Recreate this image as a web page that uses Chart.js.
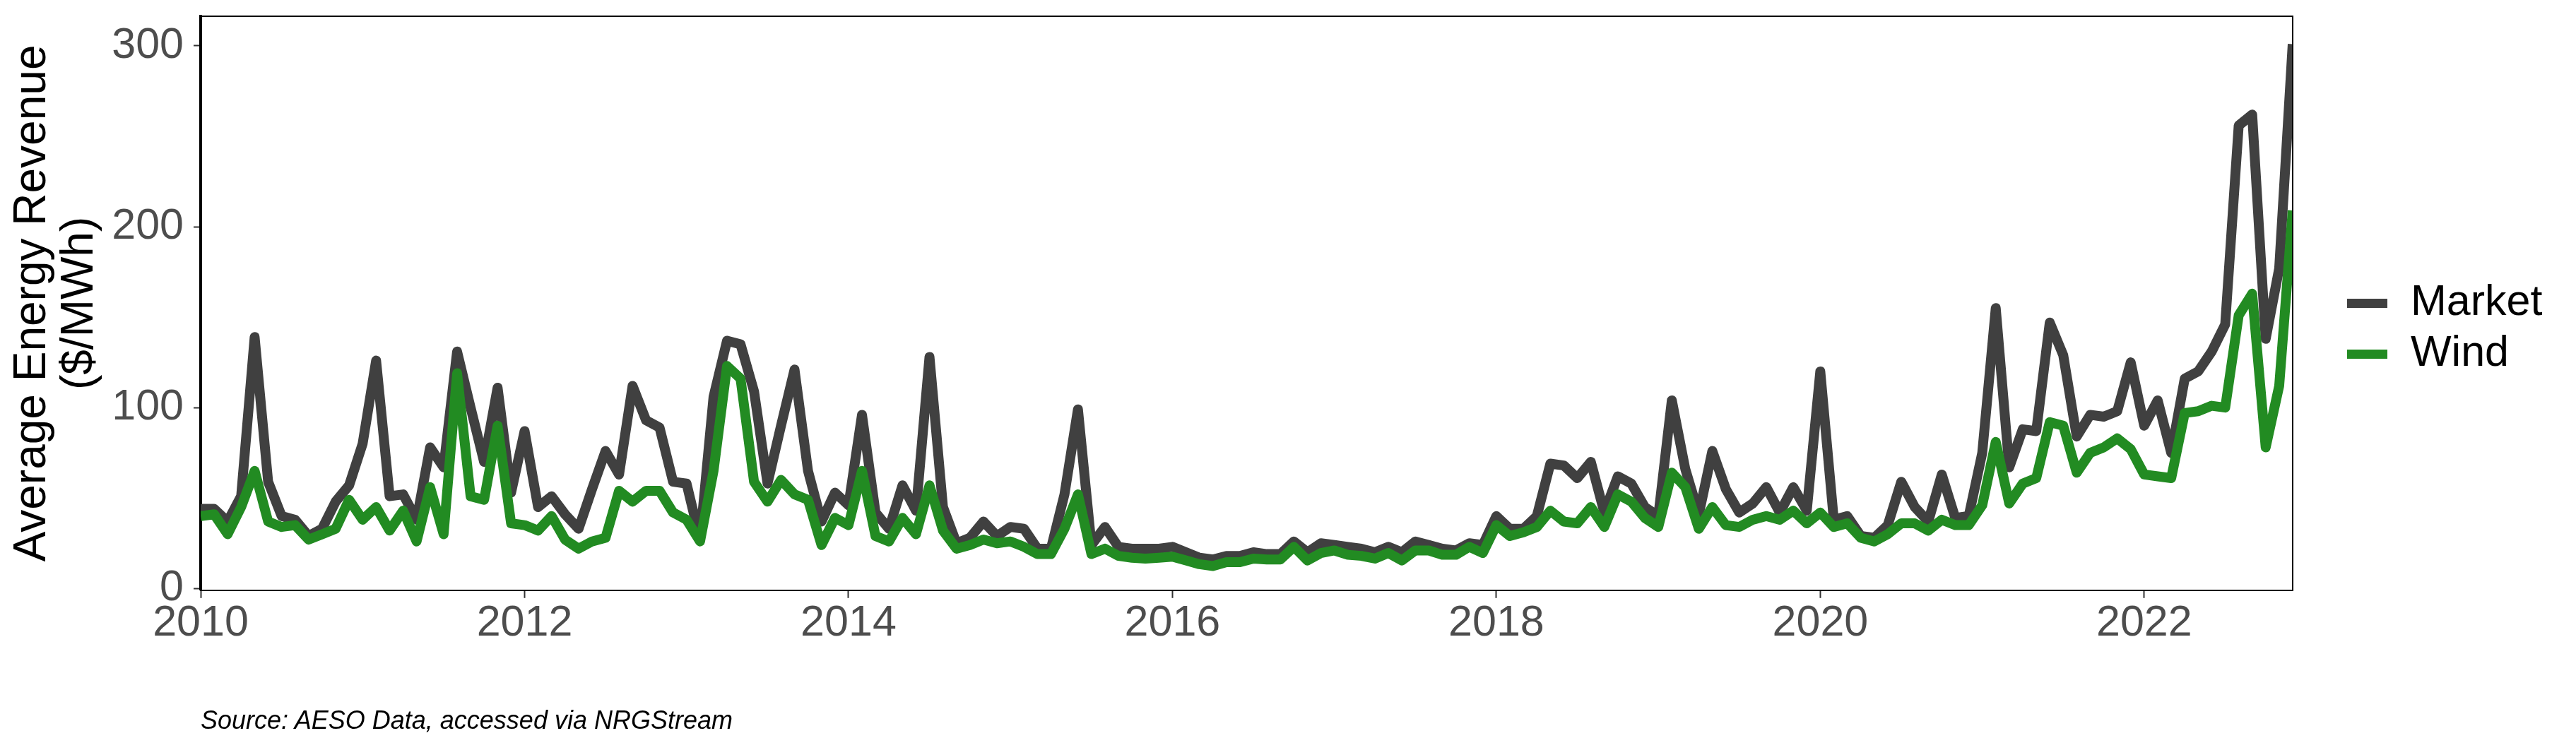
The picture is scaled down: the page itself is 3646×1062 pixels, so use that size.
<!DOCTYPE html>
<html>
<head>
<meta charset="utf-8">
<script src="https://cdn.jsdelivr.net/npm/chart.js@4.4.1/dist/chart.umd.min.js"></script>
<style>
  html, body { margin: 0; padding: 0; background: #fff; }
  #wrap { position: relative; width: 3646px; height: 1062px; }
  #caption {
    position: absolute; left: 284px; top: 1002px;
    font: italic 36px "Liberation Sans", Arial, sans-serif;
    line-height: 36px; color: #000; white-space: nowrap;
  }
</style>
</head>
<body>
<div id="wrap">
  <canvas id="revenueChart" width="3646" height="1062"></canvas>
  <div id="caption">Source: AESO Data, accessed via NRGStream</div>
</div>
<script>
// monthly values, Jan 2010 .. Dec 2022
const startYear = 2010;
const seriesNames = ['Market', 'Wind'];
const seriesColors = ['#404040', '#228B22'];

const marketRevenue = [
  44, 44, 37, 51, 139, 59, 40, 38, 29, 33, 48, 57,
  80, 126, 51, 52, 38, 78, 67, 131, 100, 70, 111, 53,
  87, 45, 51, 41, 33, 55, 76, 63, 112, 93, 89, 59,
  58, 27, 106, 137, 135, 109, 58, 90, 121, 65, 37, 53,
  46, 96, 42, 33, 57, 43, 128, 45, 25, 28, 37, 29,
  34, 33, 22, 22, 52, 99, 24, 34, 23, 22, 22, 22,
  23, 20, 17, 16, 18, 18, 20, 19, 19, 26, 20, 25,
  24, 23, 22, 20, 23, 20, 26, 24, 22, 21, 25, 24,
  40, 33, 33, 40, 69, 68, 61, 70, 42, 62, 58, 45,
  40, 104, 66, 41, 76, 55, 42, 47, 56, 42, 56, 43,
  120, 38, 40, 29, 28, 35, 59, 45, 37, 63, 39, 40,
  75, 155, 67, 88, 87, 147, 129, 84, 96, 95, 98, 125,
  90, 104, 75, 116, 120, 131, 146, 256, 262, 138, 177, 301
];

const windRevenue = [
  40, 41, 30, 45, 65, 37, 34, 35, 27, 30, 33, 49,
  38, 45, 32, 43, 26, 56, 30, 119, 51, 49, 90, 36,
  35, 32, 40, 27, 22, 26, 28, 54, 48, 54, 54, 42,
  38, 26, 65, 123, 116, 59, 48, 60, 52, 49, 24, 39,
  35, 65, 29, 26, 39, 30, 57, 32, 22, 24, 27, 25,
  26, 23, 19, 19, 33, 52, 19, 22, 18, 17, 16.5, 17,
  17.6, 15.5, 13.4, 12.4, 14.5, 14.5, 16.5, 16, 16, 23, 15.5, 19.6,
  21, 18.6, 18, 16.5, 19.6, 15.5, 21, 21, 18.6, 18.6, 23, 19.6,
  35, 29, 31, 34, 43, 37, 36, 45, 34, 52, 48, 39,
  34, 64, 56, 33, 45, 35, 34, 38, 40, 38, 43, 36,
  42, 34, 36, 28, 26, 30, 36, 36, 32, 38, 35, 35,
  46, 81, 47, 58, 61, 92, 90, 64, 75, 78, 83, 77,
  63, 62, 61, 97, 98, 101, 100, 151, 163, 78, 112, 209
];

const yTickValues = [0, 100, 200, 300];
const yAxisTitle = ['Average Energy Revenue', '($/MWh)'];

const FONT = '"Liberation Sans", Arial, sans-serif';

const toPoints = arr => arr.map((v, i) => ({ x: i, y: v }));

// ggplot-like full panel border (top + right sides)
const panelBorder = {
  id: 'panelBorder',
  afterDatasetsDraw(chart) {
    const { ctx, chartArea: a } = chart;
    ctx.save();
    ctx.strokeStyle = '#000';
    ctx.lineWidth = 2;
    ctx.beginPath();
    ctx.moveTo(a.left, a.top);
    ctx.lineTo(a.right, a.top);
    ctx.lineTo(a.right, a.bottom);
    ctx.stroke();
    ctx.restore();
  }
};

// legend on the right, keys drawn as thick line segments
const lineLegend = {
  id: 'lineLegend',
  afterDraw(chart) {
    const { ctx, chartArea: a } = chart;
    const keyX = a.right + 77;
    const keyW = 57;
    const rowH = 72;
    const midY = (a.top + a.bottom) / 2 + 36;
    ctx.save();
    ctx.font = '61px ' + FONT;
    ctx.textBaseline = 'middle';
    ctx.textAlign = 'left';
    seriesNames.forEach((name, k) => {
      const y = midY + (k - (seriesNames.length - 1) / 2) * rowH;
      ctx.strokeStyle = seriesColors[k];
      ctx.lineWidth = 13;
      ctx.beginPath();
      ctx.moveTo(keyX, y);
      ctx.lineTo(keyX + keyW, y);
      ctx.stroke();
      ctx.fillStyle = '#000';
      ctx.fillText(name, keyX + keyW + 33, y);
    });
    ctx.restore();
  }
};

const ctx = document.getElementById('revenueChart').getContext('2d');
new Chart(ctx, {
  type: 'line',
  data: {
    datasets: [
      {
        label: seriesNames[0],
        data: toPoints(marketRevenue),
        borderColor: seriesColors[0],
        backgroundColor: seriesColors[0],
        borderWidth: 14,
        order: 1
      },
      {
        label: seriesNames[1],
        data: toPoints(windRevenue),
        borderColor: seriesColors[1],
        backgroundColor: seriesColors[1],
        borderWidth: 14,
        order: 0
      }
    ]
  },
  options: {
    responsive: false,
    animation: false,
    devicePixelRatio: 1,
    elements: {
      point: { radius: 0 },
      line: { tension: 0, borderJoinStyle: 'round', borderCapStyle: 'butt' }
    },
    layout: { padding: { left: 8, right: 401, top: 23, bottom: 142 } },
    scales: {
      x: {
        type: 'linear',
        min: 0,
        max: marketRevenue.length - 1,
        afterFit: scale => { scale.paddingLeft = 0; scale.paddingRight = 0; },
        grid: { drawOnChartArea: false, drawTicks: true, tickLength: 11, tickColor: '#333', tickWidth: 2 },
        border: { display: true, color: '#000', width: 2 },
        ticks: {
          stepSize: 24,
          includeBounds: false,
          padding: 0,
          color: '#4d4d4d',
          font: { family: FONT, size: 61 },
          maxRotation: 0,
          callback: v => String(startYear + v / 12)
        }
      },
      y: {
        min: -1,
        max: 316.4,
        afterBuildTicks: scale => { scale.ticks = yTickValues.map(v => ({ value: v })); },
        afterFit: scale => { scale.width = 276; scale.paddingTop = 0; scale.paddingBottom = 0; },
        grid: { drawOnChartArea: false, drawTicks: true, tickLength: 10, tickColor: '#333', tickWidth: 2 },
        border: { display: true, color: '#000', width: 4 },
        ticks: {
          padding: 14,
          color: '#4d4d4d',
          font: { family: FONT, size: 61 }
        },
        title: {
          display: true,
          text: yAxisTitle,
          color: '#000',
          font: { family: FONT, size: 64, lineHeight: 1.06 },
          padding: { top: 4, bottom: 12 }
        }
      }
    },
    plugins: {
      legend: { display: false },
      tooltip: { enabled: false }
    }
  },
  plugins: [panelBorder, lineLegend]
});
</script>
</body>
</html>
